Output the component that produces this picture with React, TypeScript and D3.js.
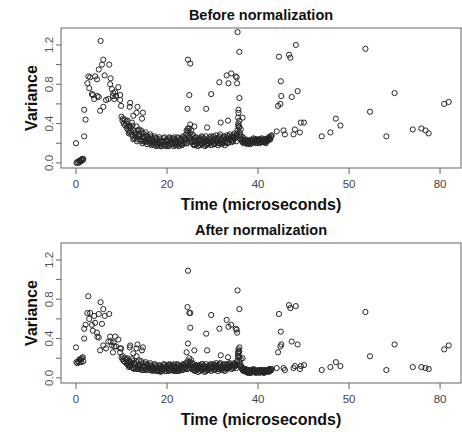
import React from "react";
import * as d3 from "d3";

// time of each sample (microseconds), shared by both panels
const timeUs = [
  // start
  0.0, 0.1, 0.3, 0.5, 0.7, 0.8, 0.9, 1.1, 1.2, 1.3, 1.5, 1.6,
  1.8, 1.8, 2.1, 2.5, 2.7, 2.9, 3.1, 3.5, 3.7, 4.0,
  4.2, 4.6, 4.7, 5.0, 5.0, 5.3, 5.4, 5.7, 6.0, 6.0,
  6.3, 6.6, 7.1, 7.3, 7.5, 7.6, 7.9, 8.1, 8.2, 8.4,
  8.6, 8.8, 9.3, 9.7, 9.7, 9.9, 11.8, 11.9, 12.6, 13.3,
  13.5, 14.5, 14.7,
  // dense band
  10.0, 10.2, 10.3, 10.5, 10.7, 10.8,
  11.0, 11.2, 11.3, 11.5, 11.7, 11.8,
  12.0, 12.2, 12.3, 12.5, 12.7, 12.8,
  13.0, 13.2, 13.3, 13.5, 13.7, 13.8,
  14.0, 14.2, 14.3, 14.5, 14.7, 14.8,
  15.0, 15.2, 15.3, 15.5, 15.7, 15.8,
  16.0, 16.2, 16.3, 16.5, 16.7, 16.8,
  17.0, 17.2, 17.3, 17.5, 17.7, 17.8,
  18.0, 18.2, 18.3, 18.5, 18.7, 18.8,
  19.0, 19.2, 19.3, 19.5, 19.7, 19.8,
  20.0, 20.2, 20.3, 20.5, 20.7, 20.8,
  21.0, 21.2, 21.3, 21.5, 21.7, 21.8,
  22.0, 22.2, 22.3, 22.5, 22.7, 22.8,
  23.0, 23.2, 23.3, 23.5, 23.7, 23.8,
  24.0, 24.2, 24.3, 24.5, 24.7, 24.8,
  25.0, 25.2, 25.3, 25.5, 25.7, 25.8,
  26.0, 26.2, 26.3, 26.5, 26.7, 26.8,
  27.0, 27.2, 27.3, 27.5, 27.7, 27.8,
  28.0, 28.2, 28.3, 28.5, 28.7, 28.8,
  29.0, 29.2, 29.3, 29.5, 29.7, 29.8,
  30.0, 30.2, 30.3, 30.5, 30.7, 30.8,
  31.0, 31.2, 31.3, 31.5, 31.7, 31.8,
  32.0, 32.2, 32.3, 32.5, 32.7, 32.8,
  33.0, 33.2, 33.3, 33.5, 33.7, 33.8,
  34.0, 34.2, 34.3, 34.5, 34.7, 34.8,
  35.0, 35.2, 35.3, 35.5, 35.7, 35.8,
  36.0, 36.2, 36.3, 36.5, 36.7, 36.8,
  37.0, 37.2, 37.3, 37.5, 37.7, 37.8,
  38.0, 38.2, 38.3, 38.5, 38.7, 38.8,
  39.0, 39.2, 39.3, 39.5, 39.7, 39.8,
  40.0, 40.2, 40.3, 40.5, 40.7, 40.8,
  41.0, 41.2, 41.3, 41.5, 41.7, 41.8,
  42.0, 42.2, 42.3, 42.5, 42.7, 42.8,
  43.0,
  // dense band, second pass
  11.1, 11.4, 11.6, 11.9, 12.1, 12.4, 12.6, 12.9,
  13.1, 13.4, 13.6, 13.9, 14.1, 14.4, 14.6, 14.9,
  15.1, 15.4, 15.6, 15.9, 16.1, 16.4, 16.6, 16.9,
  17.1, 17.4, 17.6, 17.9, 18.1, 18.4, 18.6, 18.9,
  19.1, 19.4, 19.6, 19.9, 20.1, 20.4, 20.6, 20.9,
  21.1, 21.4, 21.6, 21.9, 22.1, 22.4, 22.6, 22.9,
  23.1, 23.4, 23.6, 23.9, 24.1, 24.4, 24.6, 24.9,
  25.1, 25.4, 25.6, 25.9, 26.1, 26.4, 26.6, 26.9,
  27.1, 27.4, 27.6, 27.9, 28.1, 28.4, 28.6, 28.9,
  29.1, 29.4, 29.6, 29.9, 30.1, 30.4, 30.6, 30.9,
  31.1, 31.4, 31.6, 31.9, 32.1, 32.4, 32.6, 32.9,
  33.1, 33.4, 33.6, 33.9, 34.1, 34.4, 34.6, 34.9,
  35.1, 35.4, 35.6, 35.9, 36.1, 36.4, 36.6, 36.9,
  37.1, 37.4, 37.6, 37.9, 38.1, 38.4, 38.6, 38.9,
  39.1, 39.4, 39.6, 39.9, 40.1, 40.4, 40.6, 40.9,
  41.1, 41.4, 41.6, 41.9, 42.1, 42.4, 42.6, 42.9,
  // middle outliers
  24.6, 25.1, 24.9, 24.5, 25.1, 26.0, 24.6, 24.3, 28.6, 28.8,
  29.7, 31.5, 31.8, 33.1, 33.5, 33.4, 34.1, 35.1, 35.3, 35.5,
  35.4, 35.9, 35.9, 35.7, 35.7, 35.6, 36.6, 35.9, 36.2,
  // right side
  44.6, 45.0, 45.1, 44.9, 44.4, 44.1, 45.6, 45.9, 46.8, 47.1,
  47.4, 48.3, 48.7, 47.8, 48.1, 49.2, 49.4, 50.1, 54.0, 55.9,
  57.1, 58.1, 63.6, 64.6, 68.2, 70.0, 74.0, 75.9, 76.8, 77.5,
  80.9, 81.9,
];

const varianceBefore = [
  0.20, 0.00, 0.01, 0.00, 0.02, 0.02, 0.01, 0.03, 0.02, 0.04, 0.03, 0.04,
  0.27, 0.54, 0.44, 0.81, 0.88, 0.76, 0.87, 0.70, 0.69, 0.65,
  0.88, 0.85, 0.68, 0.67, 0.95, 0.53, 1.24, 1.00, 1.05, 0.57,
  0.89, 0.64, 0.65, 1.00, 0.80, 0.86, 0.75, 0.68, 0.71, 0.65,
  0.72, 0.68, 0.77, 0.69, 0.64, 0.58, 0.57, 0.61, 0.48, 0.51,
  0.57, 0.45, 0.51,
  0.47, 0.43, 0.45, 0.40, 0.44, 0.38,
  0.40, 0.35, 0.43, 0.33, 0.38, 0.31,
  0.36, 0.29, 0.41, 0.27, 0.33, 0.25,
  0.31, 0.26, 0.37, 0.24, 0.29, 0.34,
  0.28, 0.23, 0.33, 0.22, 0.26, 0.30,
  0.25, 0.21, 0.31, 0.22, 0.27, 0.23,
  0.24, 0.20, 0.29, 0.21, 0.26, 0.19,
  0.22, 0.19, 0.27, 0.20, 0.25, 0.18,
  0.21, 0.18, 0.26, 0.19, 0.23, 0.17,
  0.22, 0.18, 0.25, 0.19, 0.23, 0.17,
  0.21, 0.24, 0.18, 0.26, 0.20, 0.23,
  0.19, 0.25, 0.21, 0.17, 0.24, 0.20,
  0.22, 0.18, 0.26, 0.20, 0.23, 0.19,
  0.20, 0.24, 0.18, 0.27, 0.21, 0.25,
  0.23, 0.29, 0.20, 0.32, 0.26, 0.22,
  0.30, 0.24, 0.33, 0.21, 0.27, 0.19,
  0.23, 0.18, 0.26, 0.20, 0.24, 0.17,
  0.21, 0.25, 0.18, 0.23, 0.19, 0.26,
  0.20, 0.24, 0.17, 0.27, 0.22, 0.19,
  0.23, 0.19, 0.26, 0.21, 0.18, 0.25,
  0.21, 0.27, 0.19, 0.24, 0.20, 0.28,
  0.22, 0.18, 0.26, 0.20, 0.29, 0.23,
  0.19, 0.25, 0.21, 0.27, 0.18, 0.24,
  0.22, 0.28, 0.20, 0.25, 0.23, 0.29,
  0.24, 0.21, 0.27, 0.22, 0.26, 0.30,
  0.25, 0.22, 0.28, 0.33, 0.40, 0.36,
  0.31, 0.28, 0.25, 0.22, 0.26, 0.20,
  0.21, 0.24, 0.20, 0.22, 0.19, 0.23,
  0.20, 0.22, 0.19, 0.23, 0.21, 0.24,
  0.25, 0.21, 0.23, 0.20, 0.24, 0.22,
  0.22, 0.24, 0.20, 0.23, 0.21, 0.25,
  0.23, 0.21, 0.24, 0.22, 0.20, 0.24,
  0.22, 0.25, 0.23, 0.26, 0.24, 0.27,
  0.28,
  0.42, 0.37, 0.30, 0.36, 0.32, 0.38, 0.24, 0.30,
  0.28, 0.22, 0.33, 0.26, 0.24, 0.31, 0.20, 0.27,
  0.23, 0.28, 0.19, 0.25, 0.22, 0.27, 0.18, 0.24,
  0.21, 0.25, 0.17, 0.23, 0.20, 0.24, 0.17, 0.22,
  0.20, 0.26, 0.18, 0.23, 0.22, 0.17, 0.25, 0.19,
  0.23, 0.19, 0.26, 0.18, 0.21, 0.25, 0.17, 0.24,
  0.22, 0.19, 0.26, 0.20, 0.25, 0.20, 0.28, 0.35,
  0.26, 0.22, 0.29, 0.18, 0.22, 0.26, 0.19, 0.24,
  0.23, 0.20, 0.27, 0.22, 0.25, 0.21, 0.18, 0.23,
  0.20, 0.24, 0.27, 0.22, 0.23, 0.19, 0.25, 0.22,
  0.24, 0.20, 0.27, 0.21, 0.23, 0.20, 0.26, 0.22,
  0.25, 0.21, 0.27, 0.24, 0.26, 0.23, 0.28, 0.25,
  0.27, 0.30, 0.38, 0.43, 0.28, 0.24, 0.21, 0.23,
  0.22, 0.20, 0.23, 0.21, 0.21, 0.23, 0.20, 0.22,
  0.22, 0.24, 0.21, 0.23, 0.23, 0.21, 0.24, 0.22,
  0.22, 0.24, 0.21, 0.23, 0.24, 0.26, 0.25, 0.27,
  1.05, 1.01, 0.69, 0.55, 0.39, 0.37, 0.35, 0.33, 0.55, 0.36,
  0.70, 0.82, 0.41, 0.89, 0.81, 0.43, 0.91, 0.88, 0.87, 1.33,
  0.81, 1.13, 0.66, 0.54, 0.51, 0.46, 0.46, 0.37, 0.34,
  1.08, 0.83, 0.68, 0.60, 0.58, 0.32, 0.33, 0.29, 1.10, 1.07,
  0.67, 1.20, 0.73, 0.29, 0.34, 0.31, 0.41, 0.41, 0.27, 0.31,
  0.45, 0.38, 1.16, 0.52, 0.27, 0.71, 0.34, 0.35, 0.33, 0.30,
  0.60, 0.62,
];

const varianceAfter = [
  0.31, 0.16, 0.15, 0.17, 0.16, 0.19, 0.18, 0.19, 0.16, 0.20, 0.21, 0.17,
  0.40, 0.50, 0.54, 0.66, 0.83, 0.60, 0.66, 0.54, 0.48, 0.63,
  0.56, 0.46, 0.42, 0.41, 0.65, 0.28, 0.77, 0.55, 0.70, 0.33,
  0.63, 0.30, 0.37, 0.65, 0.42, 0.37, 0.33, 0.26, 0.36, 0.32,
  0.42, 0.32, 0.39, 0.30, 0.26, 0.30, 0.31, 0.33, 0.25, 0.30,
  0.34, 0.28, 0.31,
  0.21, 0.19, 0.22, 0.17, 0.20, 0.16,
  0.18, 0.14, 0.20, 0.13, 0.17, 0.12,
  0.16, 0.11, 0.19, 0.10, 0.15, 0.09,
  0.14, 0.10, 0.22, 0.09, 0.12, 0.18,
  0.12, 0.09, 0.17, 0.08, 0.11, 0.15,
  0.10, 0.08, 0.16, 0.09, 0.13, 0.10,
  0.11, 0.08, 0.15, 0.09, 0.12, 0.07,
  0.10, 0.08, 0.14, 0.09, 0.12, 0.07,
  0.10, 0.07, 0.13, 0.08, 0.11, 0.07,
  0.11, 0.08, 0.14, 0.09, 0.12, 0.07,
  0.10, 0.13, 0.08, 0.14, 0.09, 0.12,
  0.08, 0.13, 0.10, 0.07, 0.12, 0.09,
  0.11, 0.07, 0.14, 0.09, 0.12, 0.08,
  0.09, 0.12, 0.08, 0.14, 0.10, 0.13,
  0.11, 0.15, 0.09, 0.17, 0.13, 0.10,
  0.16, 0.12, 0.18, 0.09, 0.14, 0.08,
  0.11, 0.07, 0.13, 0.09, 0.12, 0.06,
  0.10, 0.13, 0.07, 0.11, 0.08, 0.14,
  0.09, 0.12, 0.06, 0.14, 0.10, 0.08,
  0.11, 0.08, 0.13, 0.10, 0.07, 0.12,
  0.10, 0.14, 0.08, 0.12, 0.09, 0.15,
  0.11, 0.07, 0.13, 0.09, 0.15, 0.10,
  0.08, 0.12, 0.10, 0.14, 0.07, 0.11,
  0.10, 0.14, 0.09, 0.12, 0.11, 0.15,
  0.12, 0.09, 0.13, 0.10, 0.12, 0.15,
  0.12, 0.10, 0.14, 0.18, 0.25, 0.22,
  0.16, 0.13, 0.11, 0.09, 0.10, 0.07,
  0.08, 0.07, 0.09, 0.06, 0.08, 0.05,
  0.06, 0.08, 0.05, 0.07, 0.06, 0.08,
  0.09, 0.06, 0.08, 0.05, 0.07, 0.06,
  0.07, 0.08, 0.05, 0.07, 0.06, 0.08,
  0.06, 0.08, 0.05, 0.07, 0.06, 0.07,
  0.07, 0.08, 0.06, 0.09, 0.07, 0.08,
  0.09,
  0.19, 0.15, 0.11, 0.16, 0.13, 0.17, 0.10, 0.14,
  0.11, 0.16, 0.09, 0.13, 0.10, 0.14, 0.08, 0.12,
  0.12, 0.09, 0.14, 0.08, 0.10, 0.13, 0.08, 0.11,
  0.09, 0.13, 0.07, 0.11, 0.08, 0.12, 0.06, 0.10,
  0.10, 0.13, 0.07, 0.11, 0.11, 0.07, 0.13, 0.08,
  0.12, 0.08, 0.14, 0.07, 0.10, 0.13, 0.07, 0.12,
  0.11, 0.08, 0.13, 0.09, 0.12, 0.09, 0.15, 0.20,
  0.13, 0.10, 0.15, 0.08, 0.10, 0.13, 0.08, 0.12,
  0.11, 0.09, 0.14, 0.10, 0.12, 0.10, 0.07, 0.11,
  0.09, 0.12, 0.14, 0.10, 0.11, 0.08, 0.13, 0.10,
  0.12, 0.09, 0.14, 0.10, 0.11, 0.08, 0.13, 0.10,
  0.13, 0.10, 0.14, 0.12, 0.13, 0.11, 0.14, 0.12,
  0.13, 0.16, 0.22, 0.27, 0.12, 0.10, 0.08, 0.09,
  0.07, 0.06, 0.08, 0.07, 0.07, 0.05, 0.08, 0.06,
  0.07, 0.08, 0.06, 0.07, 0.06, 0.07, 0.08, 0.06,
  0.07, 0.06, 0.08, 0.07, 0.08, 0.07, 0.09, 0.08,
  1.09, 0.66, 0.66, 0.72, 0.51, 0.28, 0.35, 0.26, 0.45, 0.28,
  0.64, 0.50, 0.23, 0.59, 0.52, 0.21, 0.54, 0.50, 0.49, 0.89,
  0.46, 0.70, 0.31, 0.27, 0.29, 0.25, 0.20, 0.21, 0.19,
  0.65, 0.47, 0.34, 0.32, 0.26, 0.10, 0.10, 0.08, 0.74, 0.71,
  0.37, 0.73, 0.34, 0.10, 0.12, 0.09, 0.12, 0.13, 0.08, 0.11,
  0.16, 0.12, 0.67, 0.22, 0.08, 0.34, 0.11, 0.11, 0.10, 0.09,
  0.29, 0.33,
];

const xTickValues = [0, 20, 40, 60, 80];
const xTickLabels = ["0", "20", "40", "50", "80"];
const yTickValues = [0, 0.2, 0.4, 0.6, 0.8, 1.0, 1.2];
const yTickLabels = ["0.0", "", "0.4", "", "0.8", "", "1.2"];

const font = "'Liberation Sans', Arial, Helvetica, sans-serif";

function Panel({ title, values, top }) {
  const left = 61;
  const right = 461;
  const height = 140;
  const bottom = top + height;

  const x = d3.scaleLinear().domain([-3.3, 84.6]).range([left, right]);
  const y = d3.scaleLinear().domain([-0.052, 1.372]).range([bottom, top]);

  const points = timeUs.map((t, i) => ({ t, v: values[i] }));

  return (
    <g>
      <text x={(left + right) / 2} y={top - 8} textAnchor="middle"
        fontFamily={font} fontWeight="bold" fontSize={14.5} fill="#111">
        {title}
      </text>
      {points.map((d, i) => (
        <circle key={i} cx={x(d.t)} cy={y(d.v)} r={2.6}
          fill="none" stroke="#262626" strokeWidth={1} />
      ))}
      <rect x={left} y={top} width={right - left} height={height}
        fill="none" stroke="#666" strokeWidth={1} />
      {xTickValues.map((v, i) => (
        <g key={"x" + i} transform={`translate(${x(v)},${bottom})`}>
          <line y1={0} y2={6} stroke="#666" />
          <text y={20} textAnchor="middle" fontFamily={font} fontSize={11.5} fill="#444">
            {xTickLabels[i]}
          </text>
        </g>
      ))}
      {yTickValues.map((v, i) => (
        <g key={"y" + i} transform={`translate(${left},${y(v)})`}>
          <line x1={0} x2={-5} stroke="#666" />
          <text transform="translate(-8,0) rotate(-90)" textAnchor="middle"
            fontFamily={font} fontSize={11.5} fill="#555">
            {yTickLabels[i]}
          </text>
        </g>
      ))}
      <text x={(left + right) / 2} y={bottom + 42} textAnchor="middle"
        fontFamily={font} fontWeight="bold" fontSize={16} fill="#111">
        Time (microseconds)
      </text>
      <text transform={`translate(37,${top + height / 2}) rotate(-90)`} textAnchor="middle"
        fontFamily={font} fontWeight="bold" fontSize={16} fill="#111">
        Variance
      </text>
    </g>
  );
}

export default function App() {
  return (
    <svg width={462} height={432} style={{ position: "absolute", left: 0, top: 0, background: "#fff" }}>
      <Panel title="Before normalization" values={varianceBefore} top={28} />
      <Panel title="After normalization" values={varianceAfter} top={243} />
    </svg>
  );
}
